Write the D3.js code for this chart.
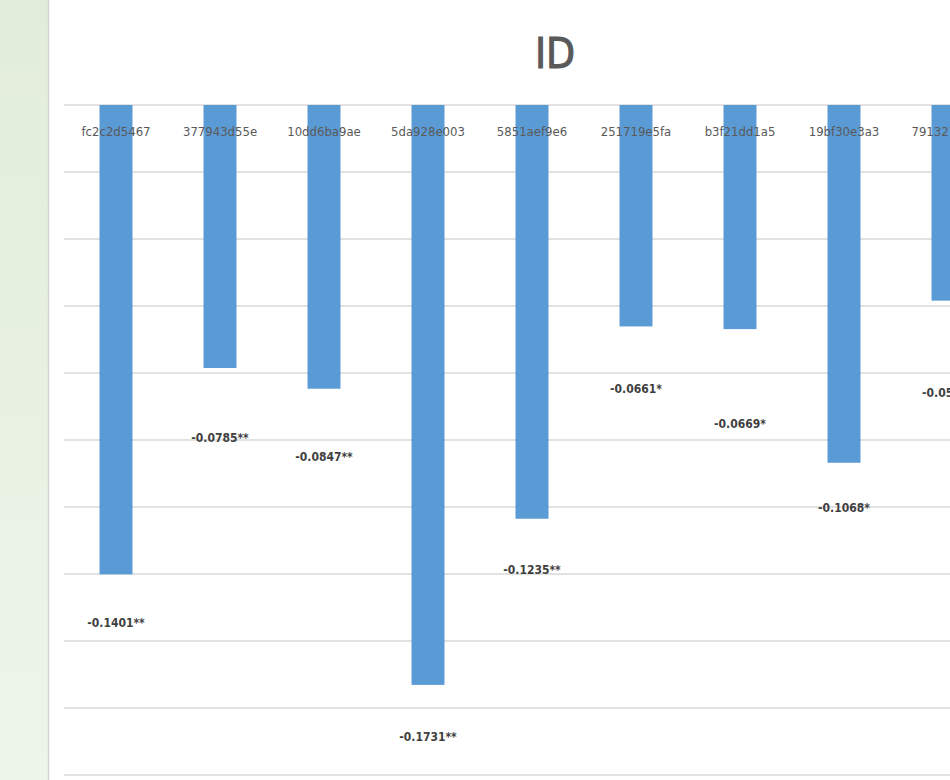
<!DOCTYPE html>
<html>
<head>
<meta charset="utf-8">
<script src="https://cdn.jsdelivr.net/npm/d3@7"></script>
<style>
  html, body { margin: 0; padding: 0; background: #fff; }
  svg { display: block; }
</style>
</head>
<body>
<svg id="chart" width="950" height="780"></svg>
<script>
// Correlation coefficients per ID, with significance marks
const categories = ["fc2c2d5467", "377943d55e", "10dd6ba9ae", "5da928e003", "5851aef9e6",
                    "251719e5fa", "b3f21dd1a5", "19bf30e3a3", "791327a8c1"];
const values = [-0.1401, -0.0785, -0.0847, -0.1731, -0.1235, -0.0661, -0.0669, -0.1068, -0.0584];
const stars = ["**", "**", "**", "**", "**", "*", "*", "*", "*"];
const yTicks = [0, -0.02, -0.04, -0.06, -0.08, -0.10, -0.12, -0.14, -0.16, -0.18, -0.20];
const title = "ID";

// layout: vertical offset of each value label below its bar end (px)
const labelNudge = [53, 74, 72, 56, 55, 67, 99, 49, 96];

const font = "'DejaVu Sans Condensed', 'DejaVu Sans', sans-serif";
const svg = d3.select("#chart");

// side panel
const defs = svg.append("defs");
const grad = defs.append("linearGradient").attr("id", "panel").attr("x1", 0).attr("y1", 0).attr("x2", 0).attr("y2", 1);
grad.append("stop").attr("offset", "0%").attr("stop-color", "#e2edd9");
grad.append("stop").attr("offset", "100%").attr("stop-color", "#edf5ea");
svg.append("rect").attr("x", 0).attr("y", 0).attr("width", 48).attr("height", 780).attr("fill", "url(#panel)");
svg.append("line").attr("x1", 48.5).attr("x2", 48.5).attr("y1", 0).attr("y2", 780)
  .attr("stroke", "#d4d6d2").attr("stroke-width", 1.5);

const x = d3.scaleBand().domain(categories).range([64, 1000]).paddingInner(0.683).paddingOuter(0.3415);
const y = d3.scaleLinear().domain([-0.2, 0]).range([775, 105]);

const plot = svg.append("g");

// gridlines
plot.append("g").selectAll("line").data(yTicks).join("line")
  .attr("x1", 64).attr("x2", 950)
  .attr("y1", d => y(d)).attr("y2", d => y(d))
  .attr("stroke", "#d9d9d9").attr("stroke-width", 1.5);

// bars
plot.append("g").selectAll("rect").data(values).join("rect")
  .attr("x", (d, i) => x(categories[i]))
  .attr("width", x.bandwidth())
  .attr("y", y(0))
  .attr("height", d => y(d) - y(0))
  .attr("fill", "#5b9bd5");

// category labels along the zero line
const xAxis = d3.axisTop(x).tickSize(0).tickPadding(0);
const gx = plot.append("g").attr("transform", "translate(0,136)").call(xAxis);
gx.select(".domain").remove();
gx.selectAll("text")
  .attr("fill", "#595959")
  .attr("font-family", font)
  .attr("font-size", 13)
  .attr("dy", 0);

// value labels
plot.append("g").selectAll("text").data(values).join("text")
  .attr("x", (d, i) => x(categories[i]) + x.bandwidth() / 2)
  .attr("y", (d, i) => y(d) + labelNudge[i])
  .attr("text-anchor", "middle")
  .attr("fill", "#404040")
  .attr("font-family", font)
  .attr("font-weight", "bold")
  .attr("font-size", 12)
  .text((d, i) => d.toFixed(4) + stars[i]);

// title
svg.append("text")
  .attr("x", 555).attr("y", 68)
  .attr("text-anchor", "middle")
  .attr("fill", "#595959")
  .attr("font-family", font)
  .attr("font-size", 42)
  .attr("stroke", "#595959").attr("stroke-width", 1)
  .text(title);
</script>
</body>
</html>
